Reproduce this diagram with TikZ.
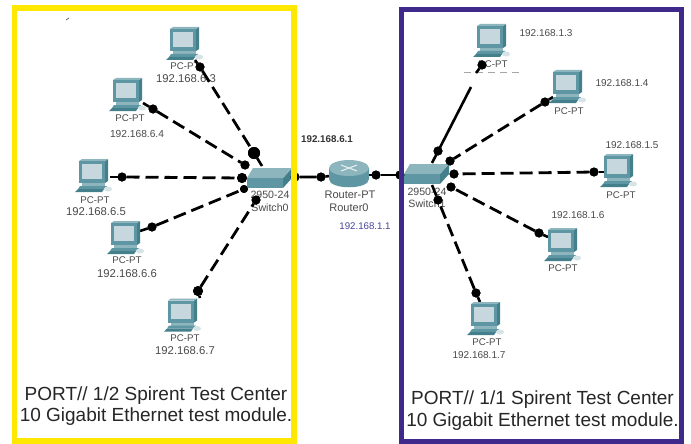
\documentclass[tikz,border=0pt]{standalone}
\usepackage{fontspec}
\setmainfont{Liberation Sans}
\definecolor{tealf}{HTML}{5E97A3}
\definecolor{teald}{HTML}{44808C}
\definecolor{teall}{HTML}{8DB5BD}
\definecolor{scr}{HTML}{C6D8DD}
\definecolor{ybox}{HTML}{FFE800}
\definecolor{pbox}{HTML}{3F2A8C}
\definecolor{lab}{HTML}{4A4A4A}
\definecolor{ipblue}{HTML}{45459A}
\tikzset{
  x=1pt,y=-1pt,
  pc/.pic={
    \fill[teald] (26,2)--(29,0)--(29,22)--(26,24)--cycle;
    \fill[teall] (0,2)--(3,0)--(29,0)--(26,2)--cycle;
    \fill[tealf] (0,2) rectangle (26,24);
    \fill[scr] (3,5) rectangle (23,20);
    \fill[teall] (3,24) rectangle (26,27);
    \fill[tealf] (1,27)--(28,27)--(25,30)--(-1,30)--cycle;
    \fill[teald] (-1,30)--(25,30)--(23,33)--(-4,33)--cycle;
    \fill[scr!70!white] (29,30) ellipse (4 and 2.5);
  },
  switchicon/.pic={
    \fill[teald] (36,10)--(45,0)--(45,10)--(36,20)--cycle;
    \fill[teall] (6,0)--(45,0)--(36,10)--(0,10)--cycle;
    \fill[tealf] (0,10) rectangle (36,20);
  },
  dot/.style={circle,fill=black,minimum size=9pt,inner sep=0pt,outer sep=0pt},
  bigdot/.style={dot,minimum size=12pt},
  lan/.style={black,line width=2.8pt,dash pattern=on 13pt off 6pt},
  solidlink/.style={black,line width=2.6pt},
  pclabel/.style={text=lab,font=\fontsize{9.7}{11}\selectfont,inner sep=0pt},
  devlabel/.style={text=lab,font=\fontsize{10.6}{11}\selectfont,inner sep=0pt},
  ipleft/.style={text=lab,font=\fontsize{11.3}{13}\selectfont,inner sep=0pt},
  ipright/.style={text=lab,font=\fontsize{10}{12}\selectfont,inner sep=0pt},
  boxtext/.style={text=black!85,font=\fontsize{19}{21.5}\selectfont,inner sep=0pt,align=center},
}
\begin{document}
\begin{tikzpicture}
\useasboundingbox (0,0) rectangle (691,444);
\fill[white] (0,0) rectangle (691,444);
\draw[black!60,line width=0.8pt] (66,20)--(69,18);

% labels
\node[pclabel] (tL3) at (185,66) {PC-PT};
\node[ipleft] (iL3) at (186,79) {192.168.6.3};
\node[pclabel] (tL4) at (130,118) {PC-PT};
\node[ipleft,font=\fontsize{10.2}{12}\selectfont] (iL4) at (137,134) {192.168.6.4};
\node[pclabel] (tL5) at (95,200) {PC-PT};
\node[ipleft] (iL5) at (96,212) {192.168.6.5};
\node[pclabel] (tL6) at (127,260) {PC-PT};
\node[ipleft] (iL6) at (127,274) {192.168.6.6};
\node[pclabel] (tL7) at (185,338) {PC-PT};
\node[ipleft] (iL7) at (185,351) {192.168.6.7};
\node[pclabel] (tR3) at (493,64) {PC-PT};
\node[ipright] (iR3) at (546,33) {192.168.1.3};
\node[pclabel] (tR4) at (569,111) {PC-PT};
\node[ipright] (iR4) at (622,83) {192.168.1.4};
\node[pclabel] (tR5) at (621,195) {PC-PT};
\node[ipright] (iR5) at (632,145) {192.168.1.5};
\node[pclabel] (tR6) at (563,268) {PC-PT};
\node[ipright] (iR6) at (578,215) {192.168.1.6};
\node[pclabel] (tR7) at (487,342) {PC-PT};
\node[ipright] (iR7) at (479,355) {192.168.1.7};
\node[devlabel] (sw0a) at (270,195) {2950-24};
\node[devlabel] (sw0b) at (270,208) {Switch0};
\node[devlabel] (sw1a) at (427,192) {2950-24};
\node[devlabel] (sw1b) at (427,204) {Switch1};
\node[devlabel,font=\fontsize{11}{12}\selectfont] (rta) at (350,195) {Router-PT};
\node[devlabel,font=\fontsize{11}{12}\selectfont] (rtb) at (349,208) {Router0};
\node[inner sep=0pt,font=\bfseries\fontsize{9.8}{11}\selectfont,text=black!80] (ip61) at (327,139.5) {192.168.6.1};
\node[inner sep=0pt,font=\fontsize{9.7}{11}\selectfont,text=ipblue] (ip11) at (365,226) {192.168.1.1};

\draw[black!35,line width=0.7pt,dash pattern=on 7pt off 5pt] (464,72)--(523,72);

% ports and connector end dots
\coordinate (pL3) at (195,60);
\coordinate (pL4) at (143,103);
\coordinate (pL5) at (110,177);
\coordinate (pL6) at (140,231);
\coordinate (pL7) at (200,298);
\coordinate (pR3) at (476,73);
\coordinate (pR4) at (553,97);
\coordinate (pR5) at (605,172);
\coordinate (pR6) at (548,237);
\coordinate (pR7) at (480,302);
\coordinate (cL3) at (262,166);
\coordinate (cL7) at (258,197);
\coordinate (cR3) at (432,163);
\coordinate (cR3b) at (471,87);
\coordinate (cR7) at (432,185);
\node[dot] (aL3) at (200,67) {};
\node[dot] (aL4) at (153,109) {};
\node[dot] (aL5) at (122,177) {};
\node[dot] (aL6) at (152,227) {};
\node[dot,minimum size=10pt] (aL7) at (198,291) {};
\node[bigdot] (sL3) at (254,153) {};
\node[dot] (sL4) at (245,165) {};
\node[dot,minimum size=10pt] (sL5) at (242,178) {};
\node[dot,minimum size=8pt] (sL6) at (244,189) {};
\node[dot] (sL7) at (256,200) {};
\node[dot] (aR3) at (482,65) {};
\node[dot] (aR4) at (545,102) {};
\node[dot] (aR5) at (594,172) {};
\node[dot] (aR6) at (539,233) {};
\node[dot] (aR7) at (476,293) {};
\node[dot] (sR3) at (438,151) {};
\node[dot] (sR4) at (450,161) {};
\node[dot] (sR5) at (454,174) {};
\node[dot] (sR6) at (451,187) {};
\node[dot] (sR7) at (438,200) {};
\node[dot] (rL0) at (295,177) {};
\node[dot] (rL1) at (321,177) {};
\node[dot] (rR1) at (376,175) {};
\node[dot] (rR0) at (400,175) {};
\coordinate (rtl) at (330,176);
\coordinate (rtr) at (369,175);
\coordinate (rtend) at (410,175);

% connectors
\foreach \n in {L3,L4,L5,L6,L7,R4,R5,R6,R7}{
  \draw[lan] (a\n) -- (s\n);
  \draw[solidlink] (p\n) -- (a\n);
}
\draw[solidlink] (sL3) -- (cL3);
\draw[solidlink] (sL7) -- (cL7);
\draw[solidlink] (sR7) -- (cR7);
\draw[solidlink] (pR3) -- (aR3);
\draw[solidlink] (cR3b) -- (cR3);
\draw[solidlink] (rL0) -- (rL1) -- (rtl);
\draw[solidlink] (rtr) -- (rR1) -- (rR0) -- (rtend);

% devices
\pic at (170,27) {pc};
\pic at (113,78) {pc};
\pic at (79,159) {pc};
\pic at (111,221) {pc};
\pic at (168,298.5) {pc};
\pic at (477,24) {pc};
\pic at (553,70) {pc};
\pic at (604,154) {pc};
\pic at (548,228) {pc};
\pic at (471,302) {pc};
\pic at (247,168) {switchicon};
\pic at (404,164) {switchicon};
\fill[tealf] (329,168) -- (329,179) .. controls (329,190) and (369,190) .. (369,179) -- (369,168) -- cycle;
\fill[teall] (349,168) ellipse (20 and 8);
\draw[white!80!teall,line width=1pt] (341,165)--(357,171) (341,171)--(357,165);

% dots on top
\foreach \n in {aL3,aL4,aL5,aL6,aR3,aR4,aR5,aR6,aR7,sL4,sL7,sR3,sR4,sR5,sR6,sR7,rL1,rR1,rL0,rR0}{
  \fill[black] (\n) circle (4.5);
}
\fill[black] (aL7) circle (5);
\fill[black] (sL5) circle (5);
\fill[black] (sL6) circle (4);
\fill[black] (sL3) circle (6);

% coloured boxes
\draw[ybox,line width=5.5pt] (14.5,8) rectangle (294,441);
\draw[pbox,line width=5pt] (401.5,9.5) rectangle (681.5,441.5);
\node[boxtext] (capL) at (156,406) {PORT// 1/2 Spirent Test Center\\10 Gigabit Ethernet test module.};
\node[boxtext] (capR) at (542.5,410.5) {PORT// 1/1 Spirent Test Center\\10 Gigabit Ethernet test module.};
\end{tikzpicture}
\end{document}
